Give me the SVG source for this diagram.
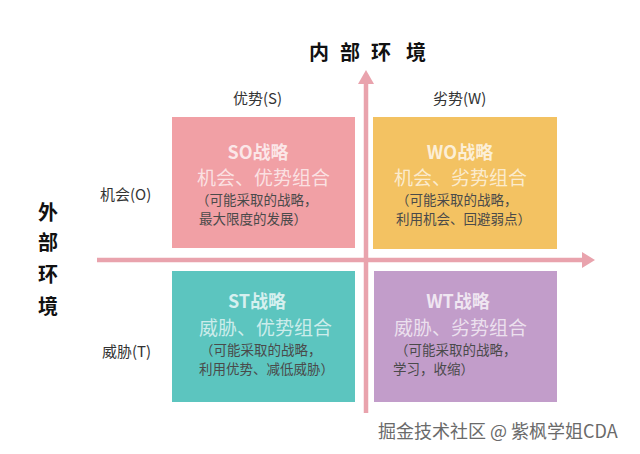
<svg xmlns="http://www.w3.org/2000/svg" width="640" height="454" viewBox="0 0 640 454">
<style>
text{font-family:"Noto Sans CJK SC","Noto Sans",sans-serif}
.ttl{font-size:18px;font-weight:bold;fill:#fff;fill-opacity:0.75}
.combo{font-size:19px;fill:#fff;fill-opacity:0.7}
.sm{font-size:13.5px;fill:#4a4a4a}
.lbl{font-size:15px;fill:#333}
.big{font-size:20px;font-weight:bold;fill:#111}
.axis{stroke:#E9A3AD;stroke-width:4.5;fill:none}
.head{fill:#E9A3AD}
</style>
<rect width="640" height="454" fill="#fff"/>
<g id="connectors">
<line class="axis" x1="366" y1="82" x2="366" y2="413"/>
<polygon class="head" points="358,84 366,70 374,84"/>
<line class="axis" x1="97" y1="260" x2="584" y2="260"/>
<polygon class="head" points="582,252 595,260 582,268"/>
</g>
<g id="title-internal">
<text class="big" x="319" y="60" text-anchor="middle">内</text>
<text class="big" x="350" y="60" text-anchor="middle">部</text>
<text class="big" x="381" y="60" text-anchor="middle">环</text>
<text class="big" x="416" y="60" text-anchor="middle">境</text>
</g>
<g id="title-external">
<text class="big" x="48" y="220" text-anchor="middle">外</text>
<text class="big" x="48" y="250" text-anchor="middle">部</text>
<text class="big" x="48" y="282" text-anchor="middle">环</text>
<text class="big" x="48" y="314" text-anchor="middle">境</text>
</g>
<g id="label-s"><text class="lbl" x="233" y="104">优势(S)</text></g>
<g id="label-w"><text class="lbl" x="433" y="104">劣势(W)</text></g>
<g id="label-o"><text class="lbl" x="100" y="200">机会(O)</text></g>
<g id="label-t"><text class="lbl" x="102" y="357">威胁(T)</text></g>
<g id="so">
<rect x="172" y="117" width="183" height="131" fill="#F1A0A5"/>
<text class="ttl" x="258" y="159" text-anchor="middle">SO战略</text>
<text class="combo" x="197" y="185">机会、优势组合</text>
<text class="sm" x="196" y="205">（可能采取的战略，</text>
<text class="sm" x="199" y="224">最大限度的发展）</text>
</g>
<g id="wo">
<rect x="373" y="117" width="184" height="132" fill="#F3C262"/>
<text class="ttl" x="460" y="159" text-anchor="middle">WO战略</text>
<text class="combo" x="394" y="185">机会、劣势组合</text>
<text class="sm" x="396" y="205">（可能采取的战略，</text>
<text class="sm" x="396" y="224">利用机会、回避弱点）</text>
</g>
<g id="st">
<rect x="172" y="271" width="183" height="131" fill="#5CC5BF"/>
<text class="ttl" x="257" y="308" text-anchor="middle">ST战略</text>
<text class="combo" x="199" y="335">威胁、优势组合</text>
<text class="sm" x="200" y="355">（可能采取的战略，</text>
<text class="sm" x="199" y="374">利用优势、减低威胁）</text>
</g>
<g id="wt">
<rect x="374" y="271" width="183" height="131" fill="#C29DCA"/>
<text class="ttl" x="458" y="308" text-anchor="middle">WT战略</text>
<text class="combo" x="394" y="335">威胁、劣势组合</text>
<text class="sm" x="395" y="355">（可能采取的战略，</text>
<text class="sm" x="393" y="374">学习，收缩）</text>
</g>
<g id="watermark"><text x="378" y="438" font-size="18" fill="#6a6a6a">掘金技术社区 @ 紫枫学姐CDA</text></g>
</svg>
